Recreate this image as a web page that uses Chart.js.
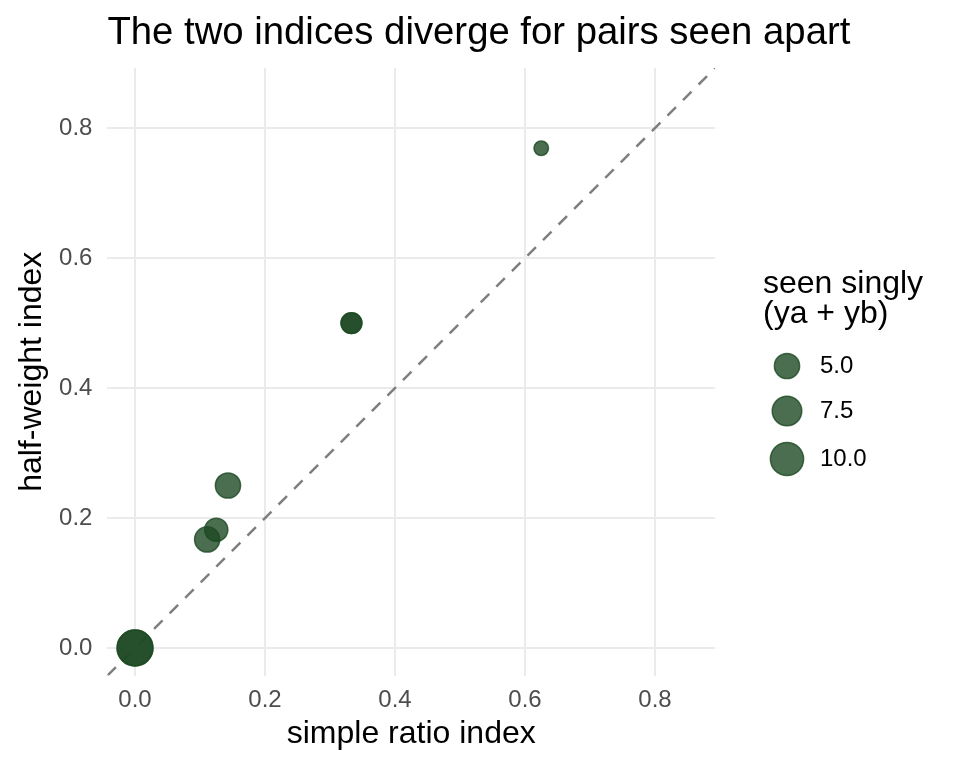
<!DOCTYPE html>
<html>
<head>
<meta charset="utf-8">
<script src="https://cdn.jsdelivr.net/npm/chart.js@4"></script>
<style>
  body { margin: 0; background: #ffffff; }
  #wrap { width: 960px; height: 768px; }
</style>
</head>
<body>
<div id="wrap"><canvas id="chart"></canvas></div>
<script>
// pairs: simple ratio index vs half-weight index, sized by times seen singly
const sri = [0, 0, 0.111, 0.125, 0.143, 0.333, 0.333, 0.625];
const hwi = [0, 0, 0.167, 0.182, 0.25, 0.5, 0.5, 0.769];
const seenSingly = [12, 12, 5, 4, 5, 3, 3, 1];

const tickValues = [0, 0.2, 0.4, 0.6, 0.8];
const legendBreaks = [5, 7.5, 10];
const axisLimits = [0, 0.85];

const pad = (axisLimits[1] - axisLimits[0]) * 0.05;
const lo = axisLimits[0] - pad;
const hi = axisLimits[1] + pad;

const FONT = "'Liberation Sans', Arial, Helvetica, sans-serif";
const pointFill = "rgba(29, 74, 35, 0.8)";
const pointEdge = "rgba(29, 74, 35, 0.8)";

function radiusFor(v) {
    return 2.94 + 4.32 * Math.sqrt(v);
}

Chart.defaults.font.family = FONT;

const points = sri.map((x, i) => ({ x: x, y: hwi[i] }));

// title and size legend drawn by hand (title runs past the plot panel)
const extras = {
    id: "extras",
    afterDraw(chart) {
        const ctx = chart.ctx;
        ctx.save();
        ctx.fillStyle = "#000000";
        ctx.textAlign = "left";
        ctx.textBaseline = "alphabetic";
        ctx.font = "38.3px " + FONT;
        ctx.fillText("The two indices diverge for pairs seen apart", chart.chartArea.left, 44);

        ctx.font = "32px " + FONT;
        ctx.fillText("seen singly", 763, 293);
        ctx.fillText("(ya + yb)", 763, 323);

        const centers = [366, 411, 459];
        legendBreaks.forEach((b, i) => {
            ctx.beginPath();
            ctx.arc(787, centers[i], radiusFor(b), 0, Math.PI * 2);
            ctx.fillStyle = pointFill;
            ctx.fill();
            ctx.lineWidth = 1.5;
            ctx.strokeStyle = pointEdge;
            ctx.stroke();
            ctx.fillStyle = "#000000";
            ctx.font = "24px " + FONT;
            ctx.textBaseline = "middle";
            ctx.fillText(b.toFixed(1), 820, centers[i]);
        });
        ctx.restore();
    },
};

new Chart(document.getElementById("chart").getContext("2d"), {
    data: {
        datasets: [
            {
                type: "scatter",
                data: points,
                backgroundColor: pointFill,
                borderColor: pointEdge,
                borderWidth: 1.5,
                pointRadius: (c) => radiusFor(seenSingly[c.dataIndex]),
                pointHoverRadius: (c) => radiusFor(seenSingly[c.dataIndex]),
                order: 0,
            },
            {
                type: "line",
                data: [
                    { x: lo, y: lo },
                    { x: hi, y: hi },
                ],
                borderColor: "#7f7f7f",
                borderWidth: 2.5,
                borderDash: [12, 10],
                pointRadius: 0,
                fill: false,
                order: 1,
            },
        ],
    },
    options: {
        responsive: true,
        maintainAspectRatio: false,
        animation: false,
        layout: {
            padding: { left: 0, right: 244.9, top: 68, bottom: 0 },
        },
        plugins: {
            legend: { display: false },
            tooltip: { enabled: false },
            title: { display: false },
        },
        scales: {
            x: {
                type: "linear",
                min: lo,
                max: hi,
                afterBuildTicks: (s) => {
                    s.ticks = tickValues.map((v) => ({ value: v }));
                },
                afterFit: (s) => {
                    s.height = 92.4;
                },
                grid: { color: "#ebebeb", lineWidth: 2, drawTicks: false },
                border: { display: false },
                ticks: {
                    color: "#4d4d4d",
                    font: { size: 24 },
                    padding: 10,
                    maxRotation: 0,
                    callback: (v) => Number(v).toFixed(1),
                },
                title: {
                    display: true,
                    text: "simple ratio index",
                    color: "#000000",
                    font: { size: 32 },
                    padding: { top: 0, bottom: 14.8 },
                },
            },
            y: {
                type: "linear",
                min: lo,
                max: hi,
                afterBuildTicks: (s) => {
                    s.ticks = tickValues.map((v) => ({ value: v }));
                },
                afterFit: (s) => {
                    s.width = 107.4;
                },
                grid: { color: "#ebebeb", lineWidth: 2, drawTicks: false },
                border: { display: false },
                ticks: {
                    color: "#4d4d4d",
                    font: { size: 24 },
                    padding: 15,
                    callback: (v) => Number(v).toFixed(1),
                },
                title: {
                    display: true,
                    text: "half-weight index",
                    color: "#000000",
                    font: { size: 32 },
                    padding: { top: 13, bottom: 0 },
                },
            },
        },
    },
    plugins: [extras],
});
</script>
</body>
</html>
